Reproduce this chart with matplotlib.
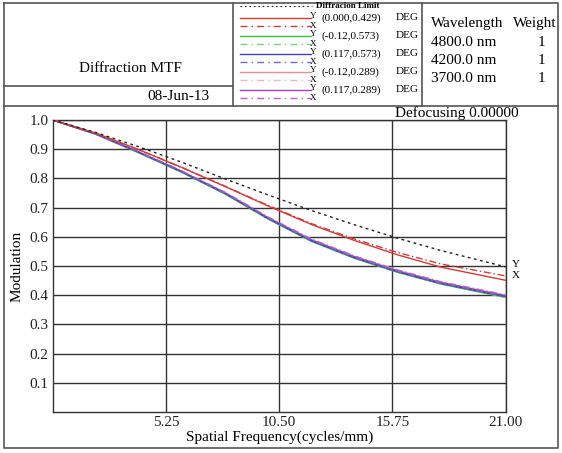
import matplotlib
matplotlib.use("Agg")
import matplotlib.pyplot as plt
import numpy as np

plt.rcParams['font.family'] = ['Liberation Serif', 'DejaVu Serif']

# spatial frequency samples (cycles/mm)
freq = [0, 2, 4, 6, 8, 10, 12, 14, 16, 18, 21]

# MTF values
diff_limit = [1.0, 0.957, 0.908, 0.855, 0.798, 0.743, 0.690, 0.641, 0.595, 0.553, 0.497]
f0_y = [1.0, 0.955, 0.898, 0.837, 0.772, 0.705, 0.642, 0.587, 0.538, 0.496, 0.451]
f0_x = [1.0, 0.955, 0.898, 0.837, 0.773, 0.707, 0.645, 0.592, 0.546, 0.507, 0.466]
f1_y = [1.0, 0.951, 0.887, 0.820, 0.746, 0.660, 0.584, 0.526, 0.478, 0.438, 0.392]
f1_x = [1.0, 0.951, 0.888, 0.821, 0.747, 0.661, 0.585, 0.527, 0.479, 0.439, 0.393]
f2_y = [1.0, 0.952, 0.889, 0.822, 0.748, 0.662, 0.586, 0.528, 0.480, 0.440, 0.395]
f2_x = [1.0, 0.952, 0.890, 0.823, 0.749, 0.664, 0.588, 0.530, 0.482, 0.442, 0.397]
f3_y = [1.0, 0.952, 0.890, 0.824, 0.750, 0.665, 0.590, 0.532, 0.484, 0.444, 0.399]
f3_x = [1.0, 0.952, 0.891, 0.825, 0.752, 0.667, 0.592, 0.534, 0.486, 0.446, 0.401]
f4_y = [1.0, 0.952, 0.890, 0.823, 0.750, 0.664, 0.589, 0.531, 0.483, 0.443, 0.398]
f4_x = [1.0, 0.953, 0.891, 0.825, 0.752, 0.667, 0.592, 0.534, 0.486, 0.446, 0.401]

field_labels = ['(0.000,0.429)', '(-0.12,0.573)', '(0.117,0.573)', '(-0.12,0.289)', '(0.117,0.289)']
colors_y = ['#d03c3c', '#3cbf3c', '#4a40b0', '#e89090', '#a040c0']
colors_x = ['#d03c3c', '#80d080', '#7a68c8', '#f0b8b8', '#c060d0']

wavelengths = ['4800.0 nm', '4200.0 nm', '3700.0 nm']
weights = ['1', '1', '1']

xticks = [5.25, 10.50, 15.75, 21.00]
yticks = [0.1, 0.2, 0.3, 0.4, 0.5, 0.6, 0.7, 0.8, 0.9, 1.0]

W, H = 562, 453
fig = plt.figure(figsize=(W / 100, H / 100), dpi=100)

# --- main plot ---
ax = fig.add_axes([52.7 / W, 1 - 412 / H, (505.7 - 52.7) / W, (412 - 120) / H])
ax.set_xlim(0, 21)
ax.set_ylim(0, 1)
ax.set_xticks(xticks)
ax.set_xticklabels(['%.2f' % t for t in xticks])
ax.set_yticks(yticks)
ax.set_yticklabels(['%.1f' % t for t in yticks])
ax.tick_params(length=0, labelsize=11, colors='#222222', pad=3)
ax.grid(True, color='#333333', linewidth=1.0)
for s in ax.spines.values():
    s.set_color('#333333')
    s.set_linewidth(1.0)
ax.set_xlabel('Spatial Frequency(cycles/mm)', fontsize=11, labelpad=1)
ax.set_ylabel('Modulation', fontsize=11, labelpad=4)

series_y = [f0_y, f1_y, f2_y, f3_y, f4_y]
series_x = [f0_x, f1_x, f2_x, f3_x, f4_x]
order = [1, 3, 4, 2, 0]
for i in order:
    ax.plot(freq, series_y[i], color=colors_y[i], lw=1.0, zorder=3)
    ax.plot(freq, series_x[i], color=colors_x[i], lw=1.0, ls=(0, (5, 2, 1, 2)), zorder=3)
ax.plot(freq, diff_limit, color='#222222', lw=1.0, ls=(0, (2, 2.5)), zorder=4)

ax.text(21.3, 0.505, 'Y', fontsize=8, ha='left', va='center', clip_on=False)
ax.text(21.3, 0.468, 'X', fontsize=8, ha='left', va='center', clip_on=False)

# --- header / frame overlay in pixel coords ---
ov = fig.add_axes([0, 0, 1, 1], zorder=-1)
ov.set_xlim(0, W)
ov.set_ylim(H, 0)
ov.axis('off')
fc = '#555555'
ov.plot([4, 558, 558, 4, 4], [3, 3, 448, 448, 3], color=fc, lw=1.2)
ov.plot([4, 558], [106, 106], color=fc, lw=1.2)
ov.plot([233, 233], [3, 106], color=fc, lw=1.2)
ov.plot([422, 422], [3, 106], color=fc, lw=1.2)
ov.plot([4, 233], [86, 86], color=fc, lw=1.2)

ov.text(130, 68, 'Diffraction MTF', fontsize=11, ha='center', va='center')
ov.text(210, 97, '08-Jun-13', fontsize=11, ha='right', va='center')
ov.text(519, 113, 'Defocusing 0.00000', fontsize=11, ha='right', va='center')

# legend block
ov.plot([240, 312], [6, 6], color='#222222', lw=0.8, ls=(0, (1.5, 2.5)))
ov.text(316, 6, 'Diffracion Limit', fontsize=6.5, fontweight='bold', ha='left', va='center')
row_y = [16, 34, 52, 70, 88]
for i, lbl in enumerate(field_labels):
    y = row_y[i]
    ov.plot([240, 311], [y + 2, y + 2], color=colors_y[i], lw=1.0)
    ov.plot([240, 311], [y + 10, y + 10], color=colors_x[i], lw=1.0, ls=(0, (5, 3, 1, 3)))
    ov.text(313, y + 0.5, 'Y', fontsize=6.5, ha='center', va='center')
    ov.text(313, y + 9.5, 'X', fontsize=6.5, ha='center', va='center')
    ov.text(322, y + 2, lbl, fontsize=8, ha='left', va='center')
    ov.text(396, y + 2, 'DEG', fontsize=8, ha='left', va='center')

# wavelength block
ov.text(431, 23, 'Wavelength', fontsize=11, ha='left', va='center')
ov.text(556, 23, 'Weight', fontsize=11, ha='right', va='center')
for j, (wl, wt) in enumerate(zip(wavelengths, weights)):
    yy = 43 + 18 * j
    ov.text(431, yy, wl, fontsize=11, ha='left', va='center')
    ov.text(541, yy, wt, fontsize=11, ha='center', va='center')

fig.savefig('out.png', dpi=100, facecolor='white')
